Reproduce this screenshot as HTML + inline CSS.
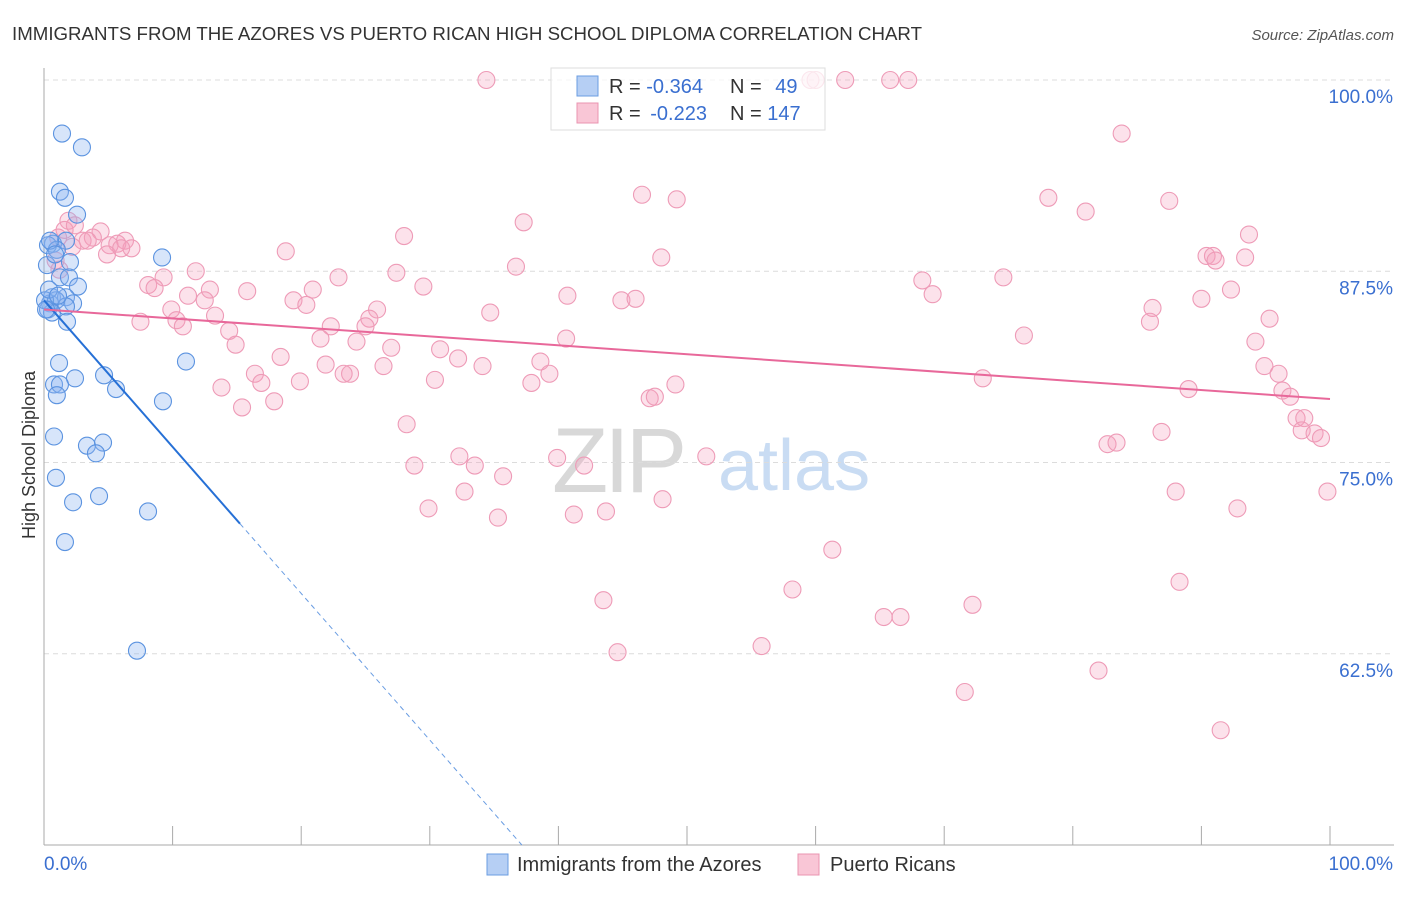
<!DOCTYPE html>
<html><head><meta charset="utf-8"><style>
body{margin:0;background:#fff;font-family:"Liberation Sans",sans-serif}
svg text{font-family:"Liberation Sans",sans-serif}
</style></head><body>
<svg id="chart" width="1406" height="892" xmlns="http://www.w3.org/2000/svg">
<text x="12" y="40" font-size="18.5" fill="#333" textLength="910" lengthAdjust="spacingAndGlyphs">IMMIGRANTS FROM THE AZORES VS PUERTO RICAN HIGH SCHOOL DIPLOMA CORRELATION CHART</text>
<text x="1394" y="40" font-size="15" fill="#555" font-style="italic" text-anchor="end">Source: ZipAtlas.com</text>
<g><text x="552" y="492" font-size="92" fill="#d8d8d8" font-family="Liberation Serif, serif" letter-spacing="-4">ZIP</text><text x="718" y="490" font-size="72" fill="#c9dcf3">atlas</text></g>
<g id="grid"></g>
<g id="axes"></g>
<text x="35" y="455" font-size="18" fill="#333" text-anchor="middle" transform="rotate(-90 35 455)">High School Diploma</text>
<g id="pts"></g>
<g id="lines"></g>
<g>
<rect x="551" y="68" width="274" height="62" fill="rgba(255,255,255,0.75)" stroke="#ddd"/>
<rect x="577" y="76" width="21" height="20" fill="#b6cff4" stroke="#6b9de2"/>
<rect x="577" y="103" width="21" height="20" fill="#f9c6d6" stroke="#ea94b0"/>
<text x="609" y="93" font-size="20" fill="#333">R = <tspan fill="#3a6fd0">-0.364</tspan></text>
<text x="730" y="93" font-size="20" fill="#333">N = <tspan fill="#3a6fd0" dx="8">49</tspan></text>
<text x="609" y="120" font-size="20" fill="#333">R = <tspan fill="#3a6fd0" dx="4">-0.223</tspan></text>
<text x="730" y="120" font-size="20" fill="#333">N = <tspan fill="#3a6fd0">147</tspan></text>
</g>
<g>
<rect x="487" y="854" width="21" height="21" fill="#b6cff4" stroke="#6b9de2"/>
<text x="517" y="871" font-size="20" fill="#333">Immigrants from the Azores</text>
<rect x="798" y="854" width="21" height="21" fill="#f9c6d6" stroke="#ea94b0"/>
<text x="830" y="871" font-size="20" fill="#333">Puerto Ricans</text>
</g>
</svg>
<script>
const yTicks=[100,87.5,75,62.5];
const yTickLabels=["100.0%","87.5%","75.0%","62.5%"];
const xTickCount=10;
const blueX=[1.4,2.95,1.24,1.63,2.57,0.7,1.71,0.31,1.0,2.02,9.18,0.23,1.24,1.94,2.64,0.62,1.71,0.47,2.26,0.31,0.93,1.71,0.62,1.79,11.04,1.17,4.67,2.41,0.78,1.24,5.6,1.0,9.25,0.78,3.34,4.59,4.04,0.93,4.28,2.26,8.09,1.63,7.23,0.08,0.16,0.47,0.86,0.39,1.09];
const blueY=[96.5,95.6,92.7,92.3,91.2,89.3,89.5,89.2,88.9,88.1,88.4,87.9,87.1,87.1,86.5,85.8,85.8,85.4,85.4,85.0,85.6,85.2,84.8,84.2,81.6,81.5,80.7,80.5,80.1,80.1,79.8,79.4,79.0,76.7,76.1,76.3,75.6,74.0,72.8,72.4,71.8,69.8,62.7,85.6,85.0,89.5,88.6,86.3,85.9];
const pinkX=[34.4,60.0,62.3,65.8,67.2,59.6,83.8,46.5,49.2,78.1,81.0,87.5,37.3,18.8,28.0,93.7,48.0,36.7,90.4,90.9,93.4,91.1,68.3,74.6,27.4,22.9,11.8,9.3,8.1,8.6,29.5,15.8,11.2,12.9,20.9,19.4,20.4,12.5,40.7,44.9,46.0,92.3,69.1,90.0,86.2,86.0,34.7,25.9,25.3,22.3,25.0,9.9,10.3,10.8,13.3,14.4,14.9,7.5,21.5,24.3,95.3,40.6,76.2,94.2,30.8,32.2,27.0,18.4,21.9,26.4,34.1,38.6,23.8,23.3,16.4,39.3,94.9,96.0,13.8,16.9,19.9,30.4,47.1,47.5,49.1,37.9,89.0,73.0,96.3,96.9,15.4,17.9,28.2,86.9,82.7,83.4,97.4,98.0,97.8,98.8,99.3,32.3,39.9,42.0,33.5,28.8,51.5,35.7,32.7,48.1,88.0,99.8,29.9,35.3,41.2,43.7,92.8,61.3,88.3,58.2,43.5,72.2,65.3,66.6,44.6,55.8,82.0,71.6,91.5,1.9,1.6,2.4,4.4,1.1,3.0,3.8,5.7,6.3,5.1,6.8,4.9,0.9,2.2,1.2,3.4,6.0];
const pinkY=[100,100,100,100,100,100,96.5,92.5,92.2,92.3,91.4,92.1,90.7,88.8,89.8,89.9,88.4,87.8,88.5,88.5,88.4,88.2,86.9,87.1,87.4,87.1,87.5,87.1,86.6,86.4,86.5,86.2,85.9,86.3,86.3,85.6,85.3,85.6,85.9,85.6,85.7,86.3,86.0,85.7,85.1,84.2,84.8,85.0,84.4,83.9,83.9,85.0,84.3,83.9,84.6,83.6,82.7,84.2,83.1,82.9,84.4,83.1,83.3,82.9,82.4,81.8,82.5,81.9,81.4,81.3,81.3,81.6,80.8,80.8,80.8,80.8,81.3,80.8,79.9,80.2,80.3,80.4,79.2,79.3,80.1,80.2,79.8,80.5,79.7,79.3,78.6,79.0,77.5,77.0,76.2,76.3,77.9,77.9,77.1,76.9,76.6,75.4,75.3,74.8,74.8,74.8,75.4,74.1,73.1,72.6,73.1,73.1,72.0,71.4,71.6,71.8,72.0,69.3,67.2,66.7,66.0,65.7,64.9,64.9,62.6,63.0,61.4,60.0,57.5,90.8,90.2,90.5,90.1,89.7,89.5,89.7,89.3,89.5,89.2,89.0,88.6,88.2,89.1,87.6,89.5,89.0];
const blueTrend=[85.6,-0.958]; // intercept, slope
const pinkTrend=[85.0,-0.0585];
const X0=44,X1=1330,Y100=80,PPU=15.3;
const sx=v=>X0+v*(X1-X0)/100;
const sy=v=>Y100+(100-v)*PPU;
const NS="http://www.w3.org/2000/svg";
function mk(tag,attrs,parent){const e=document.createElementNS(NS,tag);for(const k in attrs)e.setAttribute(k,attrs[k]);parent.appendChild(e);return e;}
const grid=document.getElementById('grid'),axes=document.getElementById('axes');
yTicks.forEach((t,i)=>{
  const l=mk('line',{x1:X0,x2:1394,y1:sy(t),y2:sy(t),stroke:'#dcdcdc','stroke-dasharray':'5,4'},grid);
  
  
  const tx=mk('text',{x:1393,y:sy(t)+23,'font-size':19,fill:'#3a6fd0','text-anchor':'end'},axes);
  tx.textContent=yTickLabels[i];
  
  
});
mk('line',{x1:X0,x2:X0,y1:68,y2:845,stroke:'#aaa'},axes);
mk('line',{x1:X0,x2:1394,y1:845,y2:845,stroke:'#aaa'},axes);
for(let i=0;i<=xTickCount;i++){
  const tk=mk('line',{x1:sx(i*10),x2:sx(i*10),y1:826,y2:845,stroke:'#aaa'},axes);
  
  
}
const xl0=mk('text',{x:44,y:870,'font-size':19,fill:'#3a6fd0'},axes);xl0.textContent='0.0%';


const xl1=mk('text',{x:1393,y:870,'font-size':19,fill:'#3a6fd0','text-anchor':'end'},axes);xl1.textContent='100.0%';


const pts=document.getElementById('pts');
pinkX.forEach((x,i)=>{
  const c=mk('circle',{cx:sx(x),cy:sy(pinkY[i]),r:8.5,fill:'rgba(245,160,190,0.3)',stroke:'#ee9bb7','stroke-width':1.1},pts);
  
  
});
blueX.forEach((x,i)=>{
  const c=mk('circle',{cx:sx(x),cy:sy(blueY[i]),r:8.5,fill:'rgba(140,180,240,0.35)',stroke:'#5b93e0','stroke-width':1.1},pts);
  
  
});
const lines=document.getElementById('lines');
const bY=x=>blueTrend[0]+blueTrend[1]*x, pY=x=>pinkTrend[0]+pinkTrend[1]*x;
const bl=mk('line',{x1:sx(0),y1:sy(bY(0)),x2:sx(15.24),y2:sy(bY(15.24)),stroke:'#2670d6','stroke-width':2},lines);


const xEnd=(50-blueTrend[0])/blueTrend[1];
const bd=mk('line',{x1:sx(15.24),y1:sy(bY(15.24)),x2:sx(xEnd),y2:sy(50),stroke:'#6a9de2','stroke-width':1,'stroke-dasharray':'5,4'},lines);


const pl=mk('line',{x1:sx(0),y1:sy(pY(0)),x2:sx(100),y2:sy(pY(100)),stroke:'#e8689a','stroke-width':2},lines);


</script>
</body></html>
